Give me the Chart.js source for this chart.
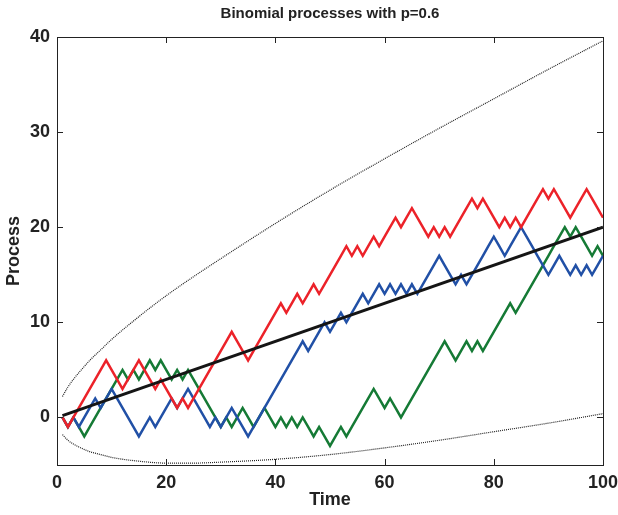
<!DOCTYPE html>
<html>
<head>
<meta charset="utf-8">
<script src="https://cdn.jsdelivr.net/npm/chart.js@4.4.0/dist/chart.umd.min.js"></script>
<style>
  html, body { margin: 0; padding: 0; background: #fff; }
  #wrap { width: 618px; height: 515px; }
</style>
</head>
<body>
<div id="wrap"><canvas id="myChart" width="618" height="515"></canvas></div>
<script>
// values, one per time step (t = 1..100)
const redWalk = [
  0, -1, 0, 1, 2, 3, 4, 5, 6, 5,
  4, 3, 4, 5, 6, 5, 4, 3, 4, 3,
  2, 1, 2, 1, 2, 3, 4, 5, 6, 7,
  8, 9, 8, 7, 6, 7, 8, 9, 10, 11,
  12, 11, 12, 13, 12, 13, 14, 13, 14, 15,
  16, 17, 18, 17, 18, 17, 18, 19, 18, 19,
  20, 21, 20, 21, 22, 21, 20, 19, 20, 19,
  20, 19, 20, 21, 22, 23, 22, 23, 22, 21,
  20, 21, 20, 21, 20, 21, 22, 23, 24, 23,
  24, 23, 22, 21, 22, 23, 24, 23, 22, 21
];
const blueWalk = [
  0, -1, 0, -1, 0, 1, 2, 1, 2, 3,
  2, 1, 0, -1, -2, -1, 0, -1, 0, 1,
  2, 1, 2, 3, 2, 1, 0, -1, 0, -1,
  0, 1, 0, -1, -2, -1, 0, 1, 2, 3,
  4, 5, 6, 7, 8, 7, 8, 9, 10, 9,
  10, 11, 10, 11, 12, 13, 12, 13, 14, 13,
  14, 13, 14, 13, 14, 13, 14, 15, 16, 17,
  16, 15, 14, 15, 14, 15, 16, 17, 18, 19,
  18, 17, 18, 19, 20, 19, 18, 17, 16, 15,
  16, 17, 16, 15, 16, 15, 16, 15, 16, 17
];
const greenWalk = [
  0, -1, 0, -1, -2, -1, 0, 1, 2, 3,
  4, 5, 4, 5, 4, 5, 6, 5, 6, 5,
  4, 5, 4, 5, 4, 3, 2, 1, 0, -1,
  0, -1, 0, 1, 0, -1, 0, 1, 0, -1,
  0, -1, 0, -1, 0, -1, -2, -1, -2, -3,
  -2, -1, -2, -1, 0, 1, 2, 3, 2, 1,
  2, 1, 0, 1, 2, 3, 4, 5, 6, 7,
  8, 7, 6, 7, 8, 7, 8, 7, 8, 9,
  10, 11, 12, 11, 12, 13, 14, 15, 16, 17,
  18, 19, 20, 19, 20, 19, 18, 17, 18, 17
];

// mean line (end points) and dotted envelope
const meanT = [1, 100];
const meanY = [0.2, 20];
const bandT = [1, 2, 3, 4, 6, 8, 10, 15, 20, 25, 30, 40, 50, 60, 70, 80, 90, 100];
const upperY = [2.2, 3.2, 4.0, 4.7, 6.0, 7.1, 8.2, 10.6, 12.8, 14.8, 16.7, 20.4, 23.9, 27.2, 30.4, 33.5, 36.6, 39.6];
const lowerY = [-1.8, -2.4, -2.8, -3.1, -3.6, -3.9, -4.2, -4.6, -4.8, -4.8, -4.7, -4.4, -3.9, -3.2, -2.4, -1.5, -0.6, 0.4];

const xTicks = [0, 20, 40, 60, 80, 100];
const yTicks = [0, 10, 20, 30, 40];

const FONT = '"Liberation Sans", Arial, Helvetica, sans-serif';

function walkPoints(arr) {
  return arr.map((v, i) => ({ x: i + 1, y: v }));
}
function pairPoints(xs, ys) {
  return xs.map((x, i) => ({ x: x, y: ys[i] }));
}

// box round the plot, inward ticks, and the title
const frame = {
  id: 'frame',
  afterDatasetsDraw(chart) {
    const { ctx, chartArea: a, scales: { x, y } } = chart;
    ctx.save();
    ctx.strokeStyle = '#222';
    ctx.lineWidth = 1;
    ctx.strokeRect(Math.round(a.left) + 0.5, Math.round(a.top) + 0.5,
      Math.round(a.right - a.left), Math.round(a.bottom - a.top));
    ctx.beginPath();
    x.ticks.forEach(t => {
      const px = Math.round(x.getPixelForValue(t.value)) + 0.5;
      ctx.moveTo(px, a.bottom); ctx.lineTo(px, a.bottom - 6);
      ctx.moveTo(px, a.top); ctx.lineTo(px, a.top + 6);
    });
    y.ticks.forEach(t => {
      const py = Math.round(y.getPixelForValue(t.value)) + 0.5;
      ctx.moveTo(a.left, py); ctx.lineTo(a.left + 6, py);
      ctx.moveTo(a.right, py); ctx.lineTo(a.right - 6, py);
    });
    ctx.stroke();

    ctx.fillStyle = '#222';
    ctx.font = 'bold 15px ' + FONT;
    ctx.textAlign = 'center';
    ctx.textBaseline = 'middle';
    ctx.fillText('Binomial processes with p=0.6', (a.left + a.right) / 2, 14);
    ctx.restore();
  }
};

const ctx = document.getElementById('myChart').getContext('2d');
new Chart(ctx, {
  type: 'line',
  data: {
    datasets: [
      {
        label: 'Mean',
        data: pairPoints(meanT, meanY),
        borderColor: '#151515',
        borderWidth: 3,
        pointRadius: 0
      },
      {
        label: 'Red',
        data: walkPoints(redWalk),
        borderColor: '#ec2229',
        borderWidth: 2.5,
        pointRadius: 0
      },
      {
        label: 'Blue',
        data: walkPoints(blueWalk),
        borderColor: '#2150a6',
        borderWidth: 2.5,
        pointRadius: 0
      },
      {
        label: 'Green',
        data: walkPoints(greenWalk),
        borderColor: '#157a35',
        borderWidth: 2.5,
        pointRadius: 0
      },
      {
        label: 'Upper',
        data: pairPoints(bandT, upperY),
        borderColor: '#222',
        borderWidth: 1.2,
        borderDash: [1, 1],
        cubicInterpolationMode: 'monotone',
        pointRadius: 0
      },
      {
        label: 'Lower',
        data: pairPoints(bandT, lowerY),
        borderColor: '#222',
        borderWidth: 1.2,
        borderDash: [1, 1],
        cubicInterpolationMode: 'monotone',
        pointRadius: 0
      }
    ]
  },
  options: {
    responsive: false,
    animation: false,
    layout: { padding: { left: 0, right: 15, top: 37, bottom: 0 } },
    plugins: {
      legend: { display: false },
      tooltip: { enabled: false }
    },
    scales: {
      x: {
        type: 'linear',
        min: 0,
        max: 100,
        grid: { display: false, drawTicks: false },
        border: { display: false },
        afterBuildTicks: s => { s.ticks = xTicks.map(v => ({ value: v })); },
        afterFit: s => { s.height = 50; s.paddingLeft = 0; s.paddingRight = 0; },
        ticks: {
          padding: 7,
          color: '#222',
          maxRotation: 0,
          font: { family: FONT, size: 18, weight: 'bold' }
        },
        title: {
          display: true,
          text: 'Time',
          color: '#222',
          padding: { top: 0, bottom: 4 },
          font: { family: FONT, size: 18, weight: 'bold' }
        }
      },
      y: {
        min: -5,
        max: 40,
        grid: { display: false, drawTicks: false },
        border: { display: false },
        afterBuildTicks: s => { s.ticks = yTicks.map(v => ({ value: v })); },
        afterFit: s => { s.width = 57; s.paddingTop = 0; s.paddingBottom = 0; },
        ticks: {
          padding: 7,
          color: '#222',
          font: { family: FONT, size: 18, weight: 'bold' }
        },
        title: {
          display: true,
          text: 'Process',
          color: '#222',
          padding: { top: 3, bottom: 0 },
          font: { family: FONT, size: 18, weight: 'bold' }
        }
      }
    }
  },
  plugins: [frame]
});
</script>
</body>
</html>
